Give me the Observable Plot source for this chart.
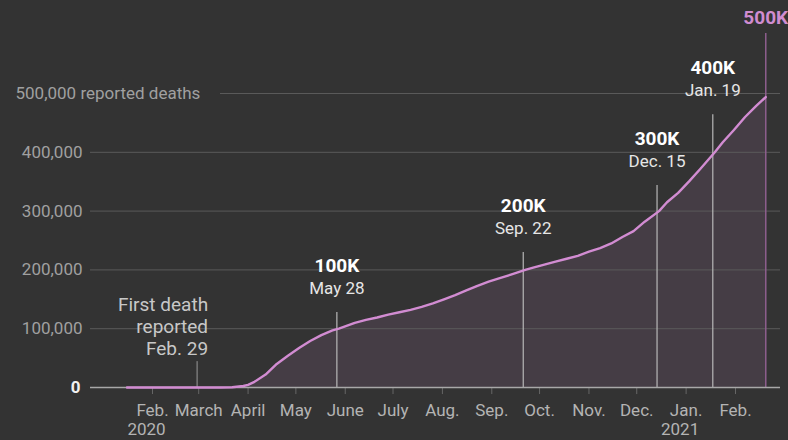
<!DOCTYPE html>
<html>
<head>
<meta charset="utf-8">
<script src="https://cdn.jsdelivr.net/npm/d3@7"></script>
<script src="https://cdn.jsdelivr.net/npm/@observablehq/plot@0.6"></script>
<style>
  html, body { margin: 0; padding: 0; background: #333333; }
  #chart svg { display: block; }
</style>
</head>
<body>
<div id="chart"></div>
<script>
// ---- data ----
const dates = [
  "2020-01-16","2020-02-29","2020-03-08","2020-03-15","2020-03-22","2020-03-29",
  "2020-04-01","2020-04-05","2020-04-12","2020-04-19","2020-04-26","2020-05-03",
  "2020-05-10","2020-05-17","2020-05-24","2020-05-28","2020-06-07","2020-06-14",
  "2020-06-21","2020-06-28","2020-07-05","2020-07-12","2020-07-19","2020-07-26",
  "2020-08-02","2020-08-09","2020-08-16","2020-08-23","2020-08-30","2020-09-06",
  "2020-09-13","2020-09-22","2020-09-27","2020-10-04","2020-10-11","2020-10-18",
  "2020-10-25","2020-11-01","2020-11-08","2020-11-15","2020-11-22","2020-11-29",
  "2020-12-06","2020-12-15","2020-12-20","2020-12-27","2021-01-03","2021-01-10",
  "2021-01-19","2021-01-24","2021-01-31","2021-02-07","2021-02-14","2021-02-20"
];
const deaths = [
  0, 1, 22, 68, 470, 2500,
  4500, 9600, 22000, 40000, 54000, 67000,
  79000, 89000, 97000, 100000, 110000, 115000,
  119000, 124000, 128000, 132000, 137000, 143000,
  150000, 157000, 165000, 173000, 180000, 186000,
  192000, 200000, 204000, 209000, 214000, 219000,
  224000, 231000, 237000, 245000, 256000, 266000,
  282000, 300000, 315000, 331000, 351000, 372000,
  400000, 417000, 438000, 460000, 479000, 494000
];
const yTicks = [0, 100000, 200000, 300000, 400000];
const yTopLabel = "500,000 reported deaths";
const monthDates = ["2020-02-01","2020-03-01","2020-04-01","2020-05-01","2020-06-01","2020-07-01",
  "2020-08-01","2020-09-01","2020-10-01","2020-11-01","2020-12-01","2021-01-01","2021-02-01"];
const monthLabels = ["Feb.","March","April","May","June","July","Aug.","Sep.","Oct.","Nov.","Dec.","Jan.","Feb."];
const yearLabels = ["2020", "2021"];
const yearDates = ["2020-02-01", "2021-01-01"];
const milestoneLabels = ["100K", "200K", "300K", "400K"];
const milestoneDates = ["2020-05-28", "2020-09-22", "2020-12-15", "2021-01-19"];
const milestoneDateLabels = ["May 28", "Sep. 22", "Dec. 15", "Jan. 19"];
const finalLabel = "500K";
const finalDate = "2021-02-20";
const firstDeathDate = "2020-02-29";
const firstDeathText = "First death\nreported\nFeb. 29";

// ---- build tables ----
const parse = d3.utcParse("%Y-%m-%d");
const series = dates.map((d, i) => ({date: parse(d), deaths: deaths[i]}));
const months = monthDates.map((d, i) => ({date: parse(d), label: monthLabels[i]}));
const years = yearDates.map((d, i) => ({date: parse(d), label: yearLabels[i]}));
// rule tops in data units (label placement above the curve)
const ruleTops = [127500, 229500, 343500, 464000];
const milestones = milestoneDates.map((d, i) => ({
  date: parse(d), label: milestoneLabels[i], dateLabel: milestoneDateLabels[i], top: ruleTops[i]
}));
const finalM = [{date: parse(finalDate), label: finalLabel, top: 602000}];
const firstDeath = [{date: parse(firstDeathDate), text: firstDeathText, top: 44000}];

const font = "Roboto, 'Liberation Sans', sans-serif";

const chart = Plot.plot({
  width: 788,
  height: 440,
  marginLeft: 90,
  marginRight: 8,
  marginTop: 0,
  marginBottom: 0,
  style: {background: "#333333", fontFamily: font, overflow: "visible"},
  x: {type: "utc", domain: [parse("2020-02-01"), parse("2021-02-01")], range: [152, 735], axis: null},
  y: {domain: [0, 500000], range: [387, 93], axis: null},
  marks: [
    // area under curve
    Plot.areaY(series, {x: "date", y: "deaths", fill: "#c080c0", fillOpacity: 0.13}),
    // gridlines
    Plot.ruleY(yTicks.filter(d => d > 0), {y: d => d, stroke: "#5a5a5a", strokeWidth: 1}),
    Plot.ruleY([500000], {y: d => d, stroke: "#5a5a5a", strokeWidth: 1, insetLeft: 130}),
    // month ticks
    Plot.ruleX(months, {x: "date", y1: 0, y2: -12000, stroke: "#666", strokeWidth: 1}),
    // annotation rules
    Plot.ruleX(milestones, {x: "date", y1: 0, y2: "top", stroke: "#b8b8b8", strokeWidth: 1.2, dx: -2}),
    Plot.ruleX(firstDeath, {x: "date", y1: 0, y2: "top", stroke: "#999", strokeWidth: 1}),
    Plot.ruleX(finalM, {x: "date", y1: 0, y2: "top", stroke: "#8e5f8e", strokeWidth: 1.5}),
    // zero baseline
    Plot.ruleY([0], {y: d => d, stroke: "#a8a8a8", strokeWidth: 1.5}),
    // the line
    Plot.lineY(series, {x: "date", y: "deaths", stroke: "#d28cd2", strokeWidth: 2.4}),
    // y axis labels
    Plot.text(yTicks.filter(d => d > 0), {
      y: d => d, frameAnchor: "left", dx: -8, textAnchor: "end",
      text: d => d3.format(",")(d), fill: "#a0a0a0", fontSize: 17
    }),
    Plot.text([0], {
      y: d => d, frameAnchor: "left", dx: -10, textAnchor: "end",
      text: d => "0", fill: "#f0f0f0", fontSize: 17, fontWeight: "bold"
    }),
    Plot.text([500000], {
      y: d => d, frameAnchor: "left", dx: -75, textAnchor: "start",
      text: d => yTopLabel, fill: "#a0a0a0", fontSize: 17
    }),
    // month labels
    Plot.text(months, {x: "date", y: 0, dy: 23, text: "label", fill: "#b4b4b4", fontSize: 17}),
    Plot.text(years, {x: "date", y: 0, dy: 42, text: "label", fill: "#b4b4b4", fontSize: 17, dx: -6}),
    // milestone labels
    Plot.text(milestones, {x: "date", y: "top", dx: -2, dy: -47, text: "label", fill: "#ffffff", fontSize: 19, fontWeight: "bold"}),
    Plot.text(milestones, {x: "date", y: "top", dx: -2, dy: -24, text: "dateLabel", fill: "#e6e6e6", fontSize: 17}),
    Plot.text(finalM, {x: "date", y: "top", dy: -16, text: "label", fill: "#d08cd0", fontSize: 19, fontWeight: "bold"}),
    // first death annotation
    Plot.text(firstDeath, {
      x: "date", y: "top", dx: 11, dy: -36, text: "text", textAnchor: "end",
      lineHeight: 1.17, fill: "#c8c8c8", fontSize: 19
    })
  ]
});
document.getElementById("chart").appendChild(chart);
</script>
</body>
</html>
